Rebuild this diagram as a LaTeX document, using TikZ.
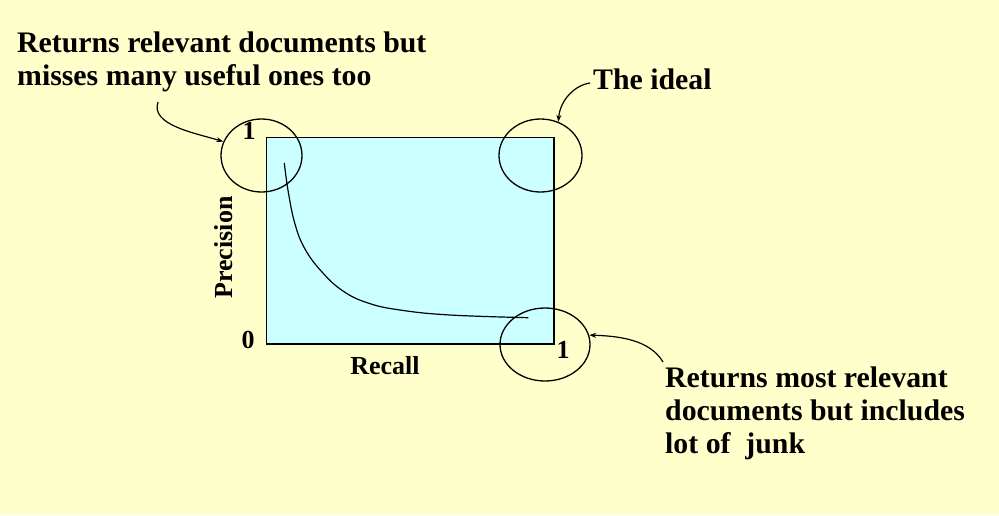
\documentclass[tikz,border=0pt]{standalone}
\usepackage{fontspec}
\setmainfont{Liberation Serif}
\usetikzlibrary{arrows.meta,shapes.geometric}
\definecolor{bgyellow}{HTML}{FFFFCC}
\definecolor{boxcyan}{HTML}{CCFFFF}
\tikzset{
  ann/.style={font=\bfseries\fontsize{29.8}{33}\selectfont, align=left, inner sep=0pt},
  lab/.style={font=\bfseries\fontsize{26}{30}\selectfont, inner sep=0pt},
  ring/.style={draw=black, line width=1.3pt},
  pointer/.style={draw=black, line width=1.2pt, -{Stealth[length=7pt,width=5pt]}},
}
\begin{document}
\begin{tikzpicture}[x=1pt,y=-1pt]
\fill[bgyellow] (0,0) rectangle (999,515);
\useasboundingbox (0,0) rectangle (999,515);
\draw[fill=boxcyan, line width=1.3pt] (266.5,137.5) rectangle (554,344);
% curve
\draw[line width=1.2pt] plot[smooth, tension=0.7] coordinates {(284.3,163) (288.3,192) (295,224) (305,249) (322,272) (343,291) (368,303) (400,310) (450,315) (528.3,317.7)};
% ellipses
\node[ring, ellipse, minimum width=81pt, minimum height=73pt, inner sep=0pt] (eTL) at (261.5,155.5) {};
\node[ring, ellipse, minimum width=83pt, minimum height=73pt, inner sep=0pt] (eTR) at (540.5,155.5) {};
\node[ring, ellipse, minimum width=90pt, minimum height=73pt, inner sep=0pt] (eBR) at (545,344.5) {};
% labels
\node[lab] (one1) at (249,131) {1};
\node[lab] (zero) at (248,340) {0};
\node[lab] (one2) at (563,350) {1};
\node[lab, rotate=90] (prec) at (224,247.5) {Precision};
\node[lab] (rec) at (385,366) {Recall};
% annotations
\node[ann, anchor=north west] (tA) at (17,32) {Returns relevant documents but\\misses many useful ones too};
\node[ann, anchor=west] (tB) at (593,79) {The ideal};
\node[ann, anchor=north west] (tC) at (665,367) {Returns most relevant\\documents but includes\\lot of~ junk};
\coordinate (sA) at (158,102);
\coordinate (sB) at (590,83);
\coordinate (sC) at (663,362);
\draw[pointer] (sA) .. controls (150,125) and (195,133) .. (eTL.160);
\draw[pointer] (sB) .. controls (575,85) and (560,100) .. (eTR.62);
\draw[pointer] (sC) .. controls (650,340) and (620,336) .. (eBR.12);
\end{tikzpicture}
\end{document}
